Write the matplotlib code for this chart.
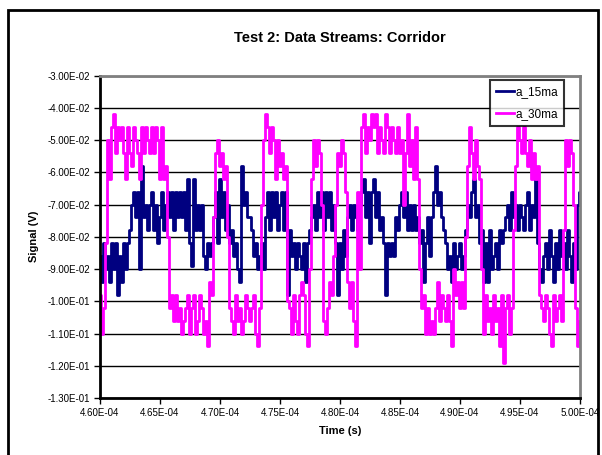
import numpy as np
import matplotlib
matplotlib.use("Agg")
import matplotlib.pyplot as plt
from matplotlib.patches import Rectangle
from matplotlib.ticker import FuncFormatter, MultipleLocator

plt.rcParams["font.family"] = ["Liberation Sans", "DejaVu Sans"]

# signal samples in mV, read every 1/6 us from 460 us to 500 us
a_15ma = [
    -86, -94, -82, -90, -86, -94, -82, -90, -82, -98, -86, -94, -82, -90, -82,
    -78, -70, -66, -74, -66, -90, -58, -74,
    -70, -78, -70, -66, -78, -70, -82, -74, -66, -78, -70,
    -66, -74, -66, -78, -66, -74, -66, -74, -66, -78, -62, -82, -89, -62,
    -78, -70, -78, -70,
    -86, -90, -82, -86, -82,
    -74, -66, -82, -62,
    -74, -66, -78, -70,
    -82, -78, -86, -82, -90, -94, -58,
    -70, -66, -74, -74, -78,
    -86, -82, -90, -86, -82, -90,
    -74, -66, -78, -66, -74, -66, -78, -70, -66, -78, -66, -98,
    -78, -86, -82, -90, -82, -86, -90, -82, -94, -82,
    -78, -74, -70, -78,
    -66, -74, -66, -78, -66, -74, -66, -78, -70,
    -82, -98, -82, -90, -78, -86,
    -74, -70, -78, -70, -74, -78,
    -70, -66, -62, -74, -66, -82, -66, -62, -74, -66, -78,
    -74, -82,
    -98, -82, -86, -82, -86,
    -74, -78, -70, -66, -74, -66, -78, -70, -78, -70, -78, -74,
    -82, -78, -94, -82, -74, -86,
    -74, -66, -58, -70, -66, -74, -78,
    -82, -90, -86, -94, -82, -90, -86, -82, -90, -86,
    -78, -70, -74, -66, -62, -74, -70,
    -82, -78,
    -94, -82, -94, -78, -90, -86, -82, -90, -78, -82, -78,
    -74, -70, -78, -66, -74, -70, -78, -70, -74, -78, -70, -66, -78, -70, -74, -62,
    -82, -90, -94, -86,
    -82, -90, -78, -86, -94, -82, -90, -78, -86, -82, -90, -78, -86, -94, -82, -90,
    -70, -66,
]

a_30ma = [
    -98, -110, -102, -82, -50,
    -62, -46, -42, -54, -46, -50, -46, -54, -62, -46, -54, -58,
    -46, -50, -54, -62, -46, -54, -46, -50, -54, -46, -54, -46, -50,
    -62, -46, -62, -58, -80, -102,
    -98, -106, -98, -106,
    -102, -110, -106, -102, -98, -110, -102, -98, -110, -106, -98, -102, -110, -106,
    -114, -94, -98, -74, -54,
    -50, -58, -54, -62, -58, -80, -102,
    -106, -110, -98, -106, -102, -110, -106, -98, -102, -106, -102, -98, -110,
    -114, -102, -70, -50, -42,
    -46, -54, -46, -50,
    -62, -50, -58, -54, -62, -58, -100,
    -102, -110, -98, -106, -110, -98, -94, -98, -110, -114, -90, -62, -50,
    -58, -50, -54, -70, -106,
    -110, -102, -94, -98, -86, -70, -54,
    -58, -50, -54, -66, -94,
    -102, -94, -106, -114, -66, -90, -46,
    -42, -54, -46, -50, -42, -46, -42, -54, -46, -50, -54, -42, -46, -54, -46,
    -50, -54, -46, -54, -50,
    -70, -54, -42, -58, -50, -62, -46, -62, -90,
    -102, -98, -110, -102, -110, -106, -110, -102, -94, -106, -98, -102, -106,
    -98, -106, -114, -90, -98, -94,
    -102, -94, -102, -80, -58, -46,
    -54, -62, -50, -58, -62, -90,
    -110, -98, -106, -102, -110, -98, -106, -102, -114, -98, -119, -102, -98,
    -110, -102, -78, -58, -46,
    -50, -54, -46, -54, -58, -50, -62, -54, -62, -58, -98,
    -102, -106, -98, -102, -110, -114, -98, -106, -102, -98, -106,
    -78, -50, -58, -50, -54, -70, -102, -114, -106,
]

t_start, t_end = 4.60e-4, 5.00e-4
time_s = np.linspace(t_start, t_end, len(a_15ma))

fig = plt.figure(figsize=(6.02, 4.55), dpi=100)
ax = fig.add_axes([100 / 602, 57 / 455, 480 / 602, 322.5 / 455])

ax.plot(time_s, np.array(a_15ma) * 1e-3, color="#000080", linewidth=2,
        drawstyle="steps-mid", label="a_15ma")
ax.plot(time_s, np.array(a_30ma) * 1e-3, color="#FF00FF", linewidth=2,
        drawstyle="steps-mid", label="a_30ma")

ax.set_xlim(t_start, t_end)
ax.set_ylim(-0.13, -0.03)
ax.xaxis.set_major_locator(MultipleLocator(0.05e-4))
ax.yaxis.set_major_locator(MultipleLocator(0.01))
sci = FuncFormatter(lambda v, pos: f"{v:.2E}")
ax.xaxis.set_major_formatter(sci)
ax.yaxis.set_major_formatter(sci)
ax.tick_params(labelsize=7, length=4, width=1, direction="out", pad=3)
ax.grid(True, axis="y", color="black", linewidth=1)
ax.set_axisbelow(True)

for side in ("left", "bottom"):
    ax.spines[side].set_linewidth(2)
    ax.spines[side].set_color("black")
for side in ("top", "right"):
    ax.spines[side].set_linewidth(2)
    ax.spines[side].set_color("#808080")

ax.set_title("Test 2: Data Streams: Corridor", fontsize=10.5, fontweight="bold", pad=24)
ax.set_xlabel("Time (s)", fontsize=8, fontweight="bold", labelpad=6)
ax.set_ylabel("Signal (V)", fontsize=8, fontweight="bold", labelpad=6)

leg = ax.legend(loc="upper left", bbox_to_anchor=(490 / 602, 1 - 80 / 455),
                bbox_transform=fig.transFigure, fontsize=8.5, frameon=True,
                fancybox=False, handlelength=1.5, handletextpad=0.15,
                borderpad=0.5, labelspacing=0.9, borderaxespad=0)
leg.get_frame().set_edgecolor("black")
leg.get_frame().set_linewidth(1.5)

# outer chart frame
fig.patches.append(Rectangle((8 / 602, -0.05), 590 / 602, 1.05 - 10 / 455,
                             transform=fig.transFigure, fill=False,
                             edgecolor="black", linewidth=2))

fig.savefig("out.png", dpi=100)
